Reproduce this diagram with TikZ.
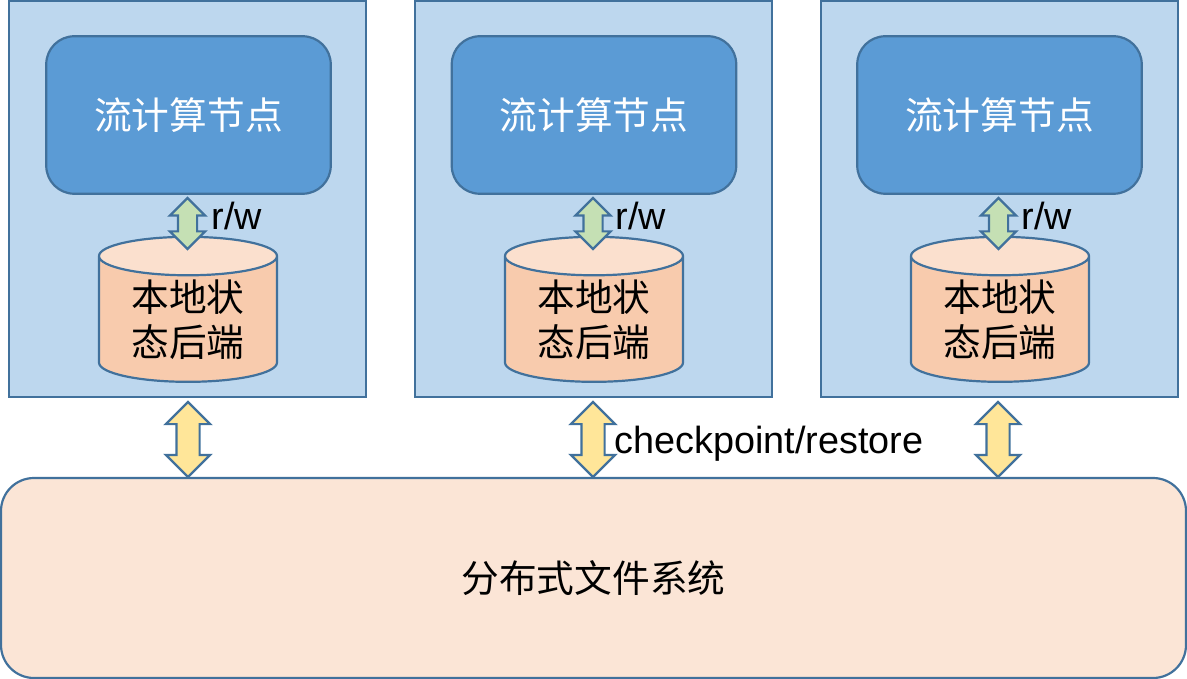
\documentclass[tikz,border=0pt]{standalone}
\usepackage{fontspec}
\setmainfont{Liberation Sans}
\newfontfamily\cjk{Noto Sans CJK SC}
\usetikzlibrary{shapes.geometric,shapes.arrows}
\definecolor{edge}{HTML}{41719C}
\definecolor{panel}{HTML}{BDD7EE}
\definecolor{blue}{HTML}{5B9BD5}
\definecolor{peach}{HTML}{FBE5D6}
\definecolor{cylbody}{HTML}{F8CBAD}
\definecolor{cyltop}{HTML}{FBE0CE}
\definecolor{yel}{HTML}{FFE699}
\definecolor{grn}{HTML}{C5E0B4}
\tikzset{
  x=1pt,y=-1pt,
  panelbox/.style={draw=edge,line width=2.2pt,fill=panel,rectangle,minimum width=357pt,minimum height=396pt,inner sep=0pt},
  flowbox/.style={draw=edge,line width=2.2pt,fill=blue,rectangle,rounded corners=28pt,minimum width=284.5pt,minimum height=157.5pt,inner sep=0pt,text=white,font=\fontsize{37.7pt}{45pt}\selectfont\cjk},
  store/.style={draw=edge,line width=2.2pt,cylinder,shape border rotate=90,aspect=0.34,minimum width=178pt,minimum height=145pt,inner sep=0pt,
    cylinder uses custom fill,cylinder body fill=cylbody,cylinder end fill=cyltop,align=center,font=\fontsize{37.7pt}{45pt}\selectfont\cjk},
  yarrow/.style={draw=edge,line width=2.2pt,fill=yel,double arrow,rotate=90,minimum height=75pt,minimum width=42pt,double arrow head extend=10.5pt,inner xsep=0pt,inner ysep=10.5pt,double arrow tip angle=90},
  garrow/.style={draw=edge,line width=2.2pt,fill=grn,double arrow,rotate=90,minimum height=51pt,minimum width=33pt,double arrow head extend=8pt,inner xsep=0pt,inner ysep=8.5pt,double arrow tip angle=90},
  lab/.style={inner sep=0pt,font=\fontsize{37.8pt}{45pt}\selectfont},
}
\begin{document}
\begin{tikzpicture}
\useasboundingbox (0,0) rectangle (1187,679);
\node[panelbox] (p1) at (187.5,199) {};
\node[panelbox] (p2) at (593.5,199) {};
\node[panelbox] (p3) at (999.5,199) {};
\node[flowbox] (f1) at (188.5,115) {流计算节点};
\node[flowbox] (f2) at (594,115) {流计算节点};
\node[flowbox] (f3) at (999.5,115) {流计算节点};
\node[store] (s1) at (188,319.5) {本地状\\态后端};
\node[store] (s2) at (594,319.5) {本地状\\态后端};
\node[store] (s3) at (1000,319.5) {本地状\\态后端};
\node[garrow] (g1) at (187.5,223.5) {};
\node[garrow] (g2) at (593,223.5) {};
\node[garrow] (g3) at (998.5,223.5) {};
\node[lab] (r1) at (237,216) {r/w};
\node[lab] (r2) at (641,216) {r/w};
\node[lab] (r3) at (1047,216) {r/w};
\node[draw=edge,line width=2.2pt,fill=peach,rectangle,rounded corners=33pt,minimum width=1185pt,minimum height=200pt,inner sep=0pt,font=\fontsize{37.7pt}{45pt}\selectfont\cjk] (fs) at (593.5,578) {分布式文件系统};
\node[yarrow] (y1) at (188,439.5) {};
\node[yarrow] (y2) at (593,439.5) {};
\node[yarrow] (y3) at (998,439.5) {};
\node[lab] (cp) at (769,444) {checkpoint/restore};
\end{tikzpicture}
\end{document}
